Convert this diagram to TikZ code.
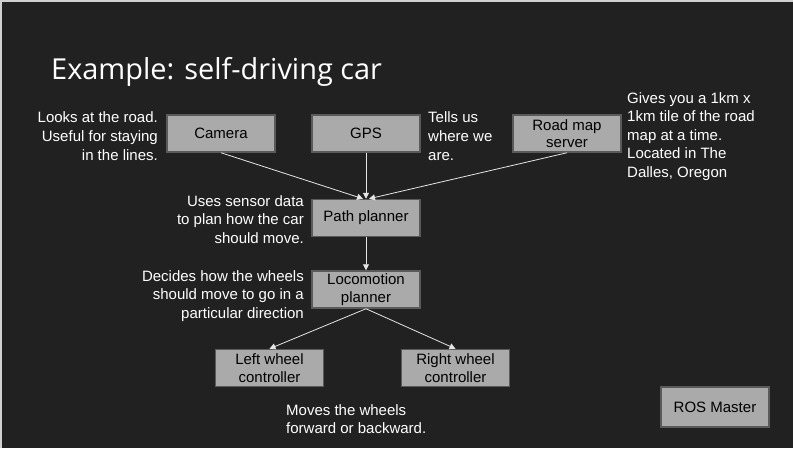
\documentclass[tikz,border=0pt]{standalone}
\usepackage{fontspec}
\setmainfont{Liberation Sans}
\newfontfamily\titlefont{Open Sans}
\usetikzlibrary{arrows.meta}
\definecolor{bg}{HTML}{212121}
\definecolor{boxfill}{HTML}{AAAAAA}
\definecolor{boxline}{HTML}{5A5A5A}
\definecolor{arrowc}{HTML}{E6E6E6}
\definecolor{edgec}{HTML}{D0D0D0}
\begin{document}
\begin{tikzpicture}[x=1pt,y=-1pt,
  box/.style={draw=boxline,line width=1.5pt,fill=boxfill,minimum width=108pt,minimum height=37pt,
    inner sep=0pt,align=center,font=\fontsize{15}{17.5}\selectfont,text=black},
  note/.style={text=white,inner sep=0pt,font=\fontsize{15}{18.6}\selectfont},
  conn/.style={draw=arrowc,line width=0.8pt,-{Triangle[length=6pt,width=6pt]}}]
\fill[bg] (0,0) rectangle (793,448);
\useasboundingbox (0,0) rectangle (793,448);
\draw[edgec,line width=1.5pt] (0.75,448) -- (0.75,0.75) -- (793,0.75);
\node[text=white,inner sep=0pt,anchor=base west,font=\titlefont\fontsize{28.9}{34}\selectfont] (title) at (51,79) {Example: self-driving car};
\node[box] (cam) at (221,133.5) {Camera};
\node[box] (gps) at (366,133.5) {GPS};
\node[box] (road) at (567,133.5) {Road map\\server};
\node[box] (path) at (366,218) {Path planner};
\node[box] (loco) at (366,289.5) {Locomotion\\planner};
\node[box] (left) at (269.5,368) {Left wheel\\controller};
\node[box] (right) at (455.5,368) {Right wheel\\controller};
\node[box,minimum height=40pt] (ros) at (715,407) {ROS Master};
\node[note,align=right,anchor=base east] (n1) at (158,160) {Looks at the road.\\Useful for staying\\in the lines.};
\node[note,align=left,anchor=base west] (n2) at (428,160) {Tells us\\where we\\are.};
\node[note,align=left,anchor=base west] (n3) at (627,177.4) {Gives you a 1km x\\1km tile of the road\\map at a time.\\Located in The\\Dalles, Oregon};
\node[note,align=right,anchor=base east] (n4) at (304,243.2) {Uses sensor data\\to plan how the car\\should move.};
\node[note,align=right,anchor=base east] (n5) at (304,318.2) {Decides how the wheels\\should move to go in a\\particular direction};
\node[note,align=left,anchor=base west] (n6) at (286,433.6) {Moves the wheels\\forward or backward.};
\draw[conn] (cam.south) -- ([xshift=-3pt]path.north);
\draw[conn] (gps.south) -- (path.north);
\draw[conn] (road.south) -- ([xshift=3pt]path.north);
\draw[conn] (path.south) -- (loco.north);
\draw[conn] (loco.south) -- (left.north);
\draw[conn] (loco.south) -- (right.north);
\end{tikzpicture}
\end{document}
